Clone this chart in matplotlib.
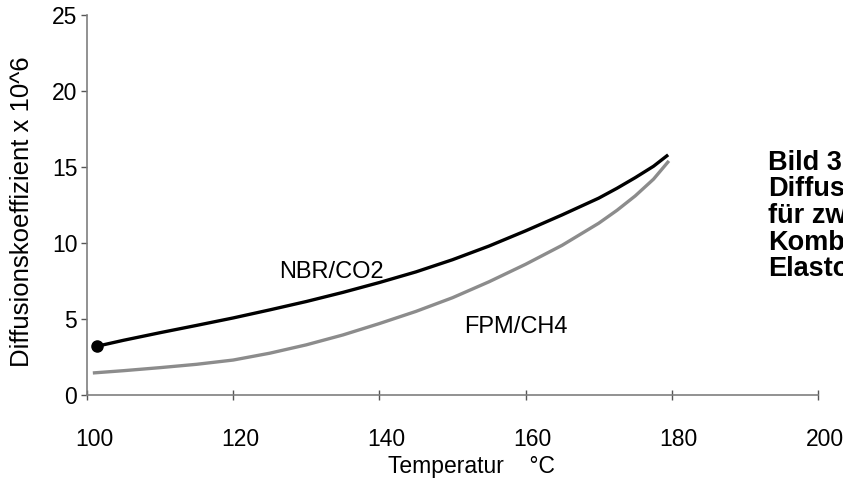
import matplotlib
matplotlib.use("Agg")
import matplotlib.pyplot as plt
from matplotlib.transforms import ScaledTranslation

plt.rcParams['font.family'] = ['Liberation Sans', 'DejaVu Sans']

# NBR/CO2 diffusion coefficient (x 10^6) over temperature in °C
nbr_temp = [101.3, 105, 110, 115, 120, 125, 130, 135, 140, 145, 150, 155, 160,
            165, 170, 172.5, 175, 177.5, 179.5]
nbr_diff = [3.2, 3.6, 4.1, 4.58, 5.07, 5.6, 6.15, 6.75, 7.4, 8.1, 8.9, 9.8, 10.8,
            11.85, 12.95, 13.6, 14.3, 15.05, 15.8]

# FPM/CH4 diffusion coefficient (x 10^6)
fpm_temp = [100.8, 105, 110, 115, 120, 125, 130, 135, 140, 145, 150, 155, 160,
            165, 170, 172.5, 175, 177.5, 179.6]
fpm_diff = [1.45, 1.6, 1.8, 2.02, 2.3, 2.75, 3.3, 3.95, 4.7, 5.5, 6.4, 7.45, 8.6,
            9.85, 11.3, 12.15, 13.1, 14.2, 15.4]

x_ticks = [100, 120, 140, 160, 180, 200]
y_ticks = [0, 5, 10, 15, 20, 25]

caption = ['Bild 3', 'Diffusionskoeffizienten', 'für zwei Gas-', 'Kombinationen', 'Elastomer']

W, H = 843, 496
fig = plt.figure(figsize=(W / 100, H / 100), dpi=100)
ax = fig.add_axes([87 / W, 1 - 395 / H, (818 - 87) / W, (395 - 15) / H])

ax.plot(fpm_temp, fpm_diff, color='#8c8c8c', lw=2.4, solid_capstyle='butt')
ax.plot(nbr_temp, nbr_diff, color='black', lw=2.4, solid_capstyle='butt')
ax.plot(nbr_temp[:1], nbr_diff[:1], 'o', color='black', ms=8)

ax.set_xlim(100, 200)
ax.set_ylim(0, 25)
ax.set_xticks(x_ticks)
ax.set_yticks(y_ticks)

for s in ['top', 'right']:
    ax.spines[s].set_visible(False)
for s in ['left', 'bottom']:
    ax.spines[s].set_color('#7f7f7f')
    ax.spines[s].set_linewidth(1.2)

ax.tick_params(axis='x', direction='inout', length=7, width=1, color='#555555',
               pad=20, labelsize=16.5)
ax.tick_params(axis='y', direction='out', length=4, width=1, color='#555555',
               pad=3, labelsize=16.5)
shift = ScaledTranslation(7 / 100, 0, fig.dpi_scale_trans)
for lbl in ax.get_xticklabels():
    lbl.set_transform(lbl.get_transform() + shift)

# curve labels, placed on their baselines
ax.text(133.5, 7.7, 'NBR/CO2', fontsize=17, ha='center', va='baseline')
ax.text(158.7, 4.1, 'FPM/CH4', fontsize=17, ha='center', va='baseline')

fig.text(22 / W, 1 - 212 / H, 'Diffusionskoeffizient x 10^6', rotation=90,
         fontsize=18.5, ha='center', va='center')
fig.text(471 / W, 1 - 466 / H, 'Temperatur    °C', fontsize=16.5,
         ha='center', va='center')

for i, line in enumerate(caption):
    fig.text(768 / W, 1 - (163 + i * 26.5) / H, line, fontsize=19.5,
             fontweight='bold', ha='left', va='center')

fig.savefig('out.png', dpi=100)
